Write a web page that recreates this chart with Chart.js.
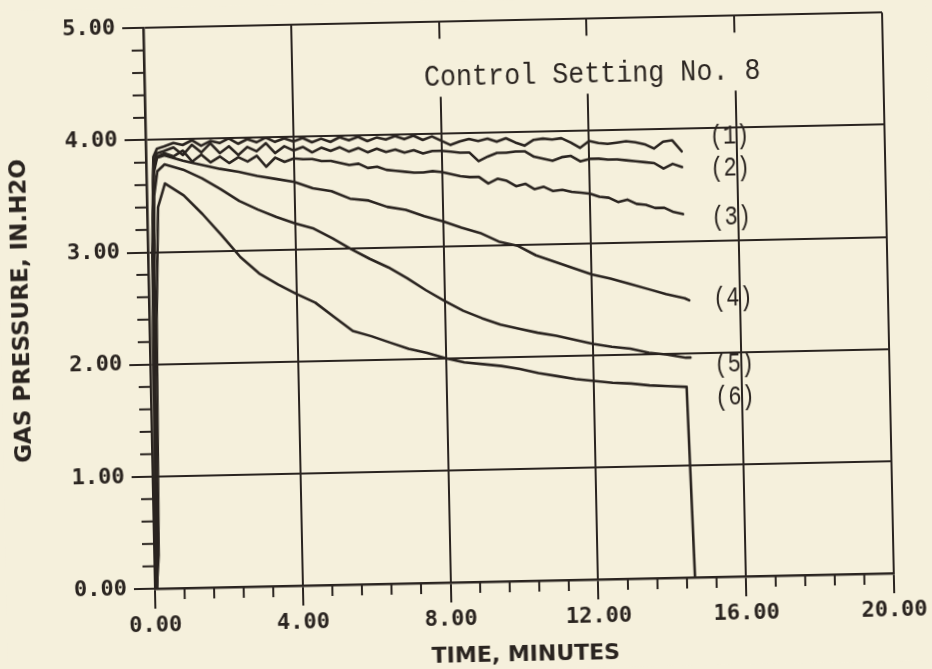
<!DOCTYPE html>
<html>
<head>
<meta charset="utf-8">
<script src="https://cdn.jsdelivr.net/npm/chart.js@4.4.1/dist/chart.umd.min.js"></script>
<style>
  html, body { margin: 0; padding: 0; background: #f5f0dc; overflow: hidden; }
  #wrap { width: 932px; height: 669px; }
  /* the plotted sheet sits slightly askew on the page */
  canvas { display: block; transform: rotate(-1.2deg); transform-origin: 518.5px 300.5px; }
</style>
</head>
<body>
<div id="wrap"><canvas id="chart" width="932" height="669"></canvas></div>
<script>
// ---- data -------------------------------------------------------------
// sampling times (minutes) for the rippling upper curves
const rippleMinutes = [0.05, 0.12, 0.2, 0.3,
  0.5, 0.75, 1, 1.25, 1.5, 1.75, 2, 2.25, 2.5, 2.75,
  3, 3.25, 3.5, 3.75, 4, 4.25, 4.5, 4.75, 5, 5.25,
  5.5, 5.75, 6, 6.25, 6.5, 6.75, 7, 7.25, 7.5, 7.75,
  8, 8.25, 8.5, 8.75, 9, 9.25, 9.5, 9.75, 10, 10.25,
  10.5, 10.75, 11, 11.25, 11.5, 11.75, 12, 12.25, 12.5, 12.75,
  13, 13.25, 13.5, 13.75, 14, 14.25, 14.5];

// sampling times (minutes) for the smoother lower curves
const smoothMinutes = [0.05, 0.12, 0.2, 0.3,
  0.5, 1, 1.5, 2, 2.5, 3, 3.5, 4, 4.5, 5,
  5.5, 6, 6.5, 7, 7.5, 8, 8.5, 9, 9.5, 10,
  10.5, 11, 11.5, 12, 12.5, 13, 13.5, 14, 14.5, 14.62];

// gas pressure, in. H2O
const pressure1 = [0, 3.0, 3.85, 3.92,
  3.94, 3.97, 3.95, 3.99, 3.94, 3.98, 3.96, 4.00, 3.95, 3.99,
  3.96, 4.00, 3.96, 3.99, 3.96, 3.99, 3.95, 3.98, 3.95, 3.99,
  3.96, 3.99, 3.95, 3.98, 3.96, 3.99, 3.96, 3.99, 3.95, 3.98,
  3.94, 3.90, 3.93, 3.95, 3.93, 3.95, 3.92, 3.95, 3.91, 3.88,
  3.93, 3.94, 3.93, 3.94, 3.90, 3.85, 3.91, 3.89, 3.88, 3.89,
  3.90, 3.89, 3.87, 3.83, 3.89, 3.90, 3.80];

const pressure2 = [0, 2.8, 3.8, 3.88,
  3.90, 3.93, 3.86, 3.95, 3.88, 3.96, 3.87, 3.93, 3.85, 3.92,
  3.88, 3.95, 3.86, 3.92, 3.88, 3.91, 3.86, 3.90, 3.87, 3.90,
  3.86, 3.89, 3.85, 3.88, 3.85, 3.87, 3.84, 3.86, 3.83, 3.85,
  3.85, 3.84, 3.83, 3.83, 3.75, 3.79, 3.82, 3.82, 3.83, 3.83,
  3.78, 3.76, 3.74, 3.77, 3.78, 3.73, 3.75, 3.75, 3.74, 3.74,
  3.73, 3.72, 3.71, 3.70, 3.65, 3.69, 3.66];

const pressure3 = [0, 2.6, 3.75, 3.85,
  3.88, 3.85, 3.90, 3.80, 3.86, 3.79, 3.84, 3.78, 3.83, 3.79,
  3.84, 3.74, 3.82, 3.78, 3.81, 3.80, 3.80, 3.78, 3.78, 3.76,
  3.74, 3.75, 3.71, 3.72, 3.69, 3.68, 3.67, 3.66, 3.66, 3.67,
  3.66, 3.64, 3.62, 3.61, 3.61, 3.55, 3.59, 3.57, 3.52, 3.54,
  3.49, 3.51, 3.47, 3.48, 3.46, 3.45, 3.44, 3.41, 3.40, 3.36,
  3.38, 3.34, 3.33, 3.30, 3.30, 3.26, 3.24];

const pressure4 = [0, 2.4, 3.7, 3.84,
  3.86, 3.81, 3.77, 3.73, 3.70, 3.66, 3.63, 3.60, 3.54, 3.51,
  3.44, 3.42, 3.36, 3.33, 3.27, 3.22, 3.16, 3.11, 3.03, 2.99,
  2.90, 2.84, 2.78, 2.72, 2.68, 2.63, 2.58, 2.53, 2.49, 2.47];

const pressure5 = [0, 1.8, 3.5, 3.72,
  3.78, 3.73, 3.65, 3.55, 3.44, 3.36, 3.29, 3.23, 3.18, 3.09,
  2.99, 2.90, 2.82, 2.72, 2.61, 2.51, 2.42, 2.35, 2.29, 2.25,
  2.21, 2.18, 2.14, 2.10, 2.07, 2.05, 2.01, 1.99, 1.96, 1.96];

const pressure6 = [0, 0.3, 2.4, 3.4,
  3.61, 3.50, 3.33, 3.14, 2.94, 2.79, 2.69, 2.60, 2.52, 2.39,
  2.26, 2.21, 2.15, 2.09, 2.05, 2.00, 1.96, 1.94, 1.92, 1.89,
  1.85, 1.82, 1.79, 1.77, 1.75, 1.74, 1.72, 1.71, 1.70, 0];

// curve tags and where they sit (minutes, in. H2O)
const curveTags = ['(1)', '(2)', '(3)', '(4)', '(5)', '(6)'];
const tagMinute = 15.8;
const tagPressure = [3.92, 3.64, 3.20, 2.48, 1.89, 1.60];

// axes
const timeMin = 0, timeMax = 20, timeMajor = 4, timeMinor = 0.8;
const pressMin = 0, pressMax = 5, pressMajor = 1, pressMinor = 0.2;
const xTitle = 'TIME, MINUTES';
const yTitle = 'GAS PRESSURE, IN.H2O';
const plotNote = 'Control Setting No. 8';

// ---- styling ----------------------------------------------------------
const INK = '#2a2420';
const PAPER = '#f5f0dc';
const TICK_FONT = { family: 'DejaVu Sans Mono', weight: 'bold', size: 22 };

function pairs(xs, ys) {
  return xs.map((x, i) => ({ x: x, y: ys[i] }));
}

const series = [
  pairs(rippleMinutes, pressure1),
  pairs(rippleMinutes, pressure2),
  pairs(rippleMinutes, pressure3),
  pairs(smoothMinutes, pressure4),
  pairs(smoothMinutes, pressure5),
  pairs(smoothMinutes, pressure6)
];

// paper background
const paperPlugin = {
  id: 'paper',
  beforeDraw(chart) {
    const ctx = chart.ctx;
    ctx.save();
    ctx.fillStyle = PAPER;
    ctx.fillRect(0, 0, chart.width, chart.height);
    ctx.restore();
  }
};

// short minor ticks outside the axes
const minorTickPlugin = {
  id: 'minorTicks',
  afterDraw(chart) {
    const { ctx, chartArea: a, scales: { x, y } } = chart;
    ctx.save();
    ctx.strokeStyle = INK;
    ctx.lineWidth = 2;
    const nx = Math.round((timeMax - timeMin) / timeMinor);
    const perX = Math.round(timeMajor / timeMinor);
    for (let i = 1; i < nx; i++) {
      if (i % perX === 0) continue;
      const px = x.getPixelForValue(timeMin + i * timeMinor);
      ctx.beginPath();
      ctx.moveTo(px, a.bottom);
      ctx.lineTo(px, a.bottom + 11);
      ctx.stroke();
    }
    const ny = Math.round((pressMax - pressMin) / pressMinor);
    const perY = Math.round(pressMajor / pressMinor);
    for (let i = 1; i < ny; i++) {
      if (i % perY === 0) continue;
      const py = y.getPixelForValue(pressMin + i * pressMinor);
      ctx.beginPath();
      ctx.moveTo(a.left, py);
      ctx.lineTo(a.left - 12, py);
      ctx.stroke();
    }
    ctx.restore();
  }
};

function narrowText(ctx, text, x, y, size, squeeze, baseline) {
  ctx.save();
  ctx.translate(x, y);
  ctx.scale(squeeze, 1);
  ctx.font = size + 'px "Liberation Mono"';
  ctx.fillStyle = INK;
  ctx.textAlign = 'center';
  ctx.textBaseline = baseline;
  ctx.fillText(text, 0, 0);
  ctx.restore();
}

// note panel, curve tags and axis titles
const textPlugin = {
  id: 'annotations',
  afterDraw(chart) {
    const { ctx, chartArea: a, scales: { x, y } } = chart;
    // the note is lettered on a blank patch of the grid
    ctx.save();
    ctx.fillStyle = PAPER;
    ctx.fillRect(422, a.top + 17, 350, 58);
    ctx.restore();
    narrowText(ctx, plotNote, 597, a.top + 64, 30, 0.89, 'alphabetic');

    curveTags.forEach((t, i) => {
      narrowText(ctx, t, x.getPixelForValue(tagMinute), y.getPixelForValue(tagPressure[i]), 27, 0.82, 'middle');
    });

    ctx.save();
    ctx.fillStyle = INK;
    ctx.textAlign = 'center';
    ctx.textBaseline = 'middle';
    ctx.font = 'bold 22px "DejaVu Sans"';
    ctx.fillText(xTitle, (a.left + a.right) / 2, 655);
    ctx.font = 'bold 23px "DejaVu Sans"';
    ctx.translate(22, (a.top + a.bottom) / 2);
    ctx.rotate(-Math.PI / 2);
    ctx.fillText(yTitle, 0, 0);
    ctx.restore();
  }
};

new Chart(document.getElementById('chart'), {
  type: 'line',
  data: {
    datasets: series.map((pts, i) => ({
      label: curveTags[i],
      data: pts,
      borderColor: INK,
      borderWidth: 2.6,
      pointRadius: 0,
      tension: 0,
      fill: false,
      borderJoinStyle: 'round',
      borderCapStyle: 'round'
    }))
  },
  options: {
    responsive: false,
    animation: false,
    devicePixelRatio: 1,
    layout: { padding: { left: 0, right: 44, top: 20, bottom: 0 } },
    plugins: { legend: { display: false }, tooltip: { enabled: false }, title: { display: false } },
    scales: {
      x: {
        type: 'linear',
        min: timeMin,
        max: timeMax,
        ticks: {
          stepSize: timeMajor,
          autoSkip: false,
          maxRotation: 0,
          padding: 4,
          color: INK,
          font: TICK_FONT,
          callback: v => Number(v).toFixed(2)
        },
        grid: { color: INK, lineWidth: 2, tickLength: 20, drawTicks: true },
        border: { display: true, color: INK, width: 2.6 },
        afterFit(s) { s.height = 88; }
      },
      y: {
        type: 'linear',
        min: pressMin,
        max: pressMax,
        ticks: {
          stepSize: pressMajor,
          autoSkip: false,
          padding: 7,
          color: INK,
          font: TICK_FONT,
          callback: v => Number(v).toFixed(2)
        },
        grid: { color: INK, lineWidth: 2, tickLength: 21, drawTicks: true },
        border: { display: true, color: INK, width: 2.6 },
        afterFit(s) { s.width = 149; }
      }
    }
  },
  plugins: [paperPlugin, minorTickPlugin, textPlugin]
});
</script>
</body>
</html>
